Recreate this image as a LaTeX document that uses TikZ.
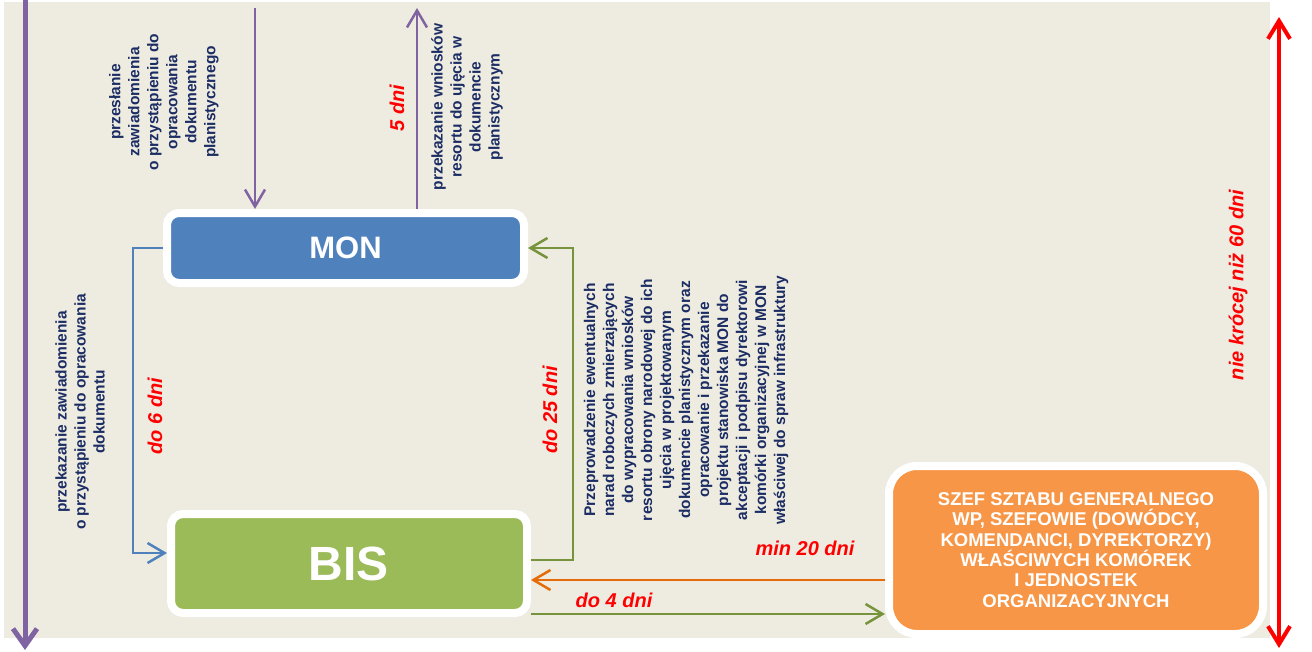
\documentclass[tikz,border=0pt]{standalone}
\usepackage{fontspec}
\setmainfont{Liberation Sans}
\usetikzlibrary{arrows.meta}
\definecolor{bg}{RGB}{238,236,225}
\definecolor{monblue}{RGB}{79,129,189}
\definecolor{bisgreen}{RGB}{155,187,89}
\definecolor{orgbox}{RGB}{247,150,70}
\definecolor{purp}{RGB}{128,100,162}
\definecolor{dgreen}{RGB}{119,147,60}
\definecolor{darr}{RGB}{228,108,10}
\definecolor{navy}{RGB}{28,45,100}
\begin{document}
\begin{tikzpicture}[x=1pt,y=-1pt,
  box/.style={draw=white,line width=8pt,rounded corners=12pt,inner sep=0pt,text=white},
  note/.style={rotate=90,align=center,inner sep=0pt,text=navy,font=\fontsize{15.5}{19}\selectfont\bfseries},
  days/.style={inner sep=0pt,text=red,font=\fontsize{20}{24}\selectfont\bfseries\itshape},
  conn/.style={line width=2.5pt,-{Straight Barb[length=17pt,width=20pt]}},
]
\useasboundingbox (0,0) rectangle (1312,651);
\fill[bg] (4,2) rectangle (1270,638);

% boxes
\node[box,fill=monblue,minimum width=357pt,minimum height=70pt,
      font=\fontsize{31}{31}\selectfont\bfseries] (mon) at (345.5,248) {MON};
\node[box,fill=bisgreen,minimum width=356pt,minimum height=99pt,
      font=\fontsize{48}{48}\selectfont\bfseries] (bis) at (349,563.5) {BIS};
\node[box,fill=orgbox,minimum width=374pt,minimum height=168pt,rounded corners=28pt,
      align=center,font=\fontsize{18.5}{20.3}\selectfont\bfseries] (szef) at (1076,550)
  {SZEF SZTABU GENERALNEGO\\WP, SZEFOWIE (DOWÓDCY,\\KOMENDANCI, DYREKTORZY)\\WŁAŚCIWYCH KOMÓREK\\I JEDNOSTEK\\ORGANIZACYJNYCH};

% long purple arrow
\coordinate (pTop) at (25,0);
\coordinate (pBot) at (25,650);
\draw[purp,line width=5pt,-{Straight Barb[length=17pt,width=24pt]}] (pTop) -- (pBot);

% purple arrows at MON
\coordinate (inTop) at (255,8);
\coordinate (outTop) at (417,8);
\draw[conn,purp] (inTop) -- (inTop |- mon.north);
\draw[conn,purp] (outTop |- mon.north) -- (outTop);

% blue connector MON -> BIS
\draw[conn,monblue] (mon.west) -- ++(-30,0) |- ([yshift=10.5pt]bis.west);

% green loop BIS -> MON
\draw[conn,dgreen] ([yshift=3.5pt]bis.east) -- ++(42,0) |- (mon.east);

% orange and green between BIS and szef
\draw[conn,darr] ([yshift=-30pt]szef.west) -- ([yshift=-30pt]szef.west -| bis.east);
\draw[conn,dgreen] ([yshift=-64pt]szef.west -| bis.east) -- ([yshift=-64pt]szef.west);

% red double arrow
\coordinate (rTop) at (1279,17);
\coordinate (rBot) at (1279,648);
\draw[red,line width=4pt,{Straight Barb[length=18pt,width=22pt]}-{Straight Barb[length=18pt,width=22pt]}] (rTop) -- (rBot);

% notes
\node[note] (n1) at (164,102) {przesłanie\\zawiadomienia\\o przystąpieniu do\\opracowania\\dokumentu\\planistycznego};
\node[note] (n2) at (467,107) {przekazanie wniosków\\resortu do ujęcia w\\dokumencie\\planistycznym};
\node[note] (n3) at (80,412) {przekazanie zawiadomienia\\o przystąpieniu do opracowania\\dokumentu};
\node[note] (n4) at (686,400) {Przeprowadzenie ewentualnych\\narad roboczych zmierzających\\do wypracowania wniosków\\resortu obrony narodowej do ich\\ujęcia w projektowanym\\dokumencie planistycznym oraz\\opracowanie i przekazanie\\projektu stanowiska MON do\\akceptacji i podpisu dyrektorowi\\komórki organizacyjnej w MON\\właściwej do spraw infrastruktury};

% day labels
\node[days,rotate=90] (d5) at (397,108) {5 dni};
\node[days,rotate=90] (d6) at (155,416) {do 6 dni};
\node[days,rotate=90] (d25) at (550,410) {do 25 dni};
\node[days] (d20) at (805,548) {min 20 dni};
\node[days] (d4) at (614,600) {do 4 dni};
\node[days,rotate=90] (d60) at (1238,285) {nie krócej niż 60 dni};
\end{tikzpicture}
\end{document}
